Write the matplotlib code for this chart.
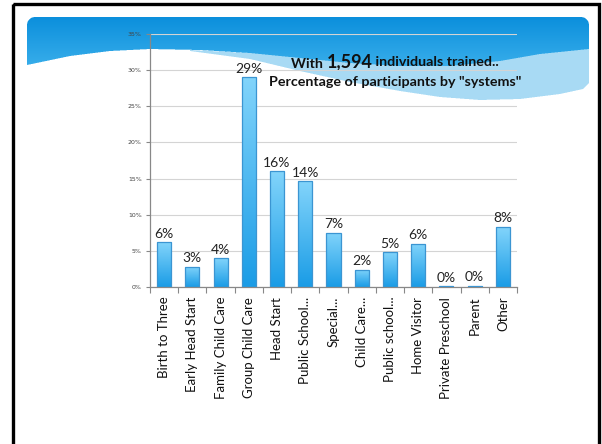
import numpy as np
import matplotlib
matplotlib.use("Agg")
import matplotlib.pyplot as plt
from matplotlib.path import Path
from matplotlib.patches import Rectangle
from matplotlib.colors import LinearSegmentedColormap, to_rgb

# data
categories = ["Birth to Three", "Early Head Start", "Family Child Care",
              "Group Child Care", "Head Start", "Public School...", "Special...",
              "Child Care...", "Public school...", "Home Visitor",
              "Private Preschool", "Parent", "Other"]
values = [6.2, 2.8, 4.0, 29.0, 16.0, 14.6, 7.5, 2.4, 4.8, 6.0, 0.1, 0.15, 8.3]
value_labels = ["6%", "3%", "4%", "29%", "16%", "14%", "7%", "2%", "5%",
                "6%", "0%", "0%", "8%"]
yticks = [0, 5, 10, 15, 20, 25, 30, 35]
ytick_labels = [f"{t}%" for t in yticks]

W, H = 602, 444
fig = plt.figure(figsize=(W / 100, H / 100), dpi=100)
fig.patch.set_facecolor("white")

# ---- slide header, rasterised by hand (pixel coords, y down) ----
r = 8
top = [(27, 66), (27, 18 + r)]
for a in np.linspace(np.pi, 1.5 * np.pi, 8):
    top.append((27 + r + r * np.cos(a), 18 + r + r * np.sin(a)))
for a in np.linspace(1.5 * np.pi, 2 * np.pi, 8):
    top.append((589 - r + r * np.cos(a), 18 + r + r * np.sin(a)))
lower = [(589, 50), (540, 55), (500, 62), (450, 67), (400, 67), (350, 64),
         (300, 59), (250, 54), (200, 51), (150, 50), (110, 52), (70, 57),
         (27, 66)]
dark_path = Path(top + lower)
band_path = Path([(190, 51), (250, 54), (300, 59), (350, 64), (400, 67),
                  (450, 67), (500, 62), (540, 55), (589, 50), (589, 84),
                  (583, 90), (560, 95), (520, 100), (480, 101), (440, 98),
                  (400, 92), (350, 83), (300, 72), (250, 60), (190, 52)])

ss = 3
xs = (np.arange(W * ss) + 0.5) / ss
ys = (np.arange(H * ss) + 0.5) / ss
gx, gy = np.meshgrid(xs, ys)
pts = np.column_stack([gx.ravel(), gy.ravel()])
m_dark = dark_path.contains_points(pts).reshape(gy.shape)
m_band = band_path.contains_points(pts).reshape(gy.shape) & ~m_dark

c_top, c_bot = np.array(to_rgb("#0b8fdc")), np.array(to_rgb("#3db1ec"))
tt = np.clip((gy - 18) / 55.0, 0, 1)[..., None]
grad = c_top * (1 - tt) + c_bot * tt
band_c = np.array(to_rgb("#a8dbf5"))
rgb = np.ones(gy.shape + (3,))
rgb[m_dark] = grad[m_dark]
rgb[m_band] = band_c
rgb = rgb.reshape(H, ss, W, ss, 3).mean(axis=(1, 3))

bg = fig.add_axes([0, 0, 1, 1], zorder=0)
bg.imshow(rgb, extent=(0, W, H, 0), interpolation="nearest", aspect="auto")
bg.add_patch(Rectangle((13, 4), 586, 470, facecolor="none", edgecolor="black",
                       lw=2.4))
bg.set_xlim(0, W)
bg.set_ylim(H, 0)
bg.axis("off")

# title
tk = dict(fontweight="bold", family="Lato", color="#111")
t1 = bg.text(291, 68, "With ", fontsize=10.3, ha="left", va="baseline", **tk)
t2 = bg.annotate("1,594", xy=(1, 0), xycoords=t1, fontsize=13,
                 ha="left", va="bottom", **tk)
bg.annotate(" individuals trained..", xy=(1, 0), xycoords=t2,
            xytext=(0, 1.6), textcoords="offset points", fontsize=10.3,
            ha="left", va="bottom", **tk)
bg.text(395, 86, 'Percentage of participants by "systems"', fontsize=10.3,
        ha="center", va="baseline", **tk)

# ---- chart ----
ax = fig.add_axes([150 / W, 1 - 287 / H, 367 / W, 253 / H], zorder=1)
ax.patch.set_facecolor("none")
x = np.arange(len(categories))
bars = ax.bar(x, values, width=0.5, color="none", edgecolor="#3b95d2",
              lw=0.9, zorder=3)
bar_cmap = LinearSegmentedColormap.from_list("bar", ["#1a9ce6", "#82d4fb"])
for b in bars:
    x0, w, h = b.get_x(), b.get_width(), b.get_height()
    g = ax.imshow(np.linspace(0, 1, 128)[:, None], cmap=bar_cmap,
                  aspect="auto", extent=(x0, x0 + w, 0, h), origin="lower",
                  zorder=2)
    g.set_clip_path(b)

for xi, v, lab in zip(x, values, value_labels):
    ax.text(xi, v + 0.35, lab, ha="center", va="bottom", fontsize=10,
            family="Lato", color="#222", zorder=4)

ax.set_xlim(-0.5, len(categories) - 0.5)
ax.set_ylim(0, 35)
ax.set_yticks(yticks)
ax.set_yticklabels(ytick_labels, fontsize=4.5, color="#444")
ax.set_xticks(x)
ax.set_xticklabels(categories, rotation=90, fontsize=9.5, family="Lato",
                   color="#111")
ax.set_xticks(np.arange(-0.5, len(categories)), minor=True)
ax.tick_params(axis="x", which="major", length=0, pad=7)
ax.tick_params(axis="x", which="minor", length=4, color="#888", width=0.8)
ax.tick_params(axis="y", length=3, color="#888", width=0.8, pad=3)
ax.grid(axis="y", color="#d4d4d4", lw=0.8, zorder=0)
ax.set_axisbelow(True)
for s in ("top", "right"):
    ax.spines[s].set_visible(False)
for s in ("left", "bottom"):
    ax.spines[s].set_color("#888")
    ax.spines[s].set_linewidth(0.9)

fig.savefig("out.png", dpi=100)
